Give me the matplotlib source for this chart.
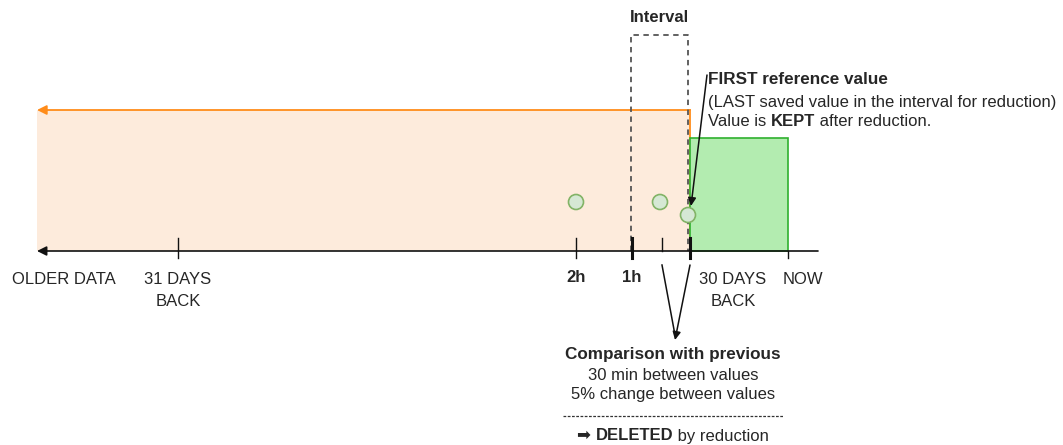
import matplotlib
matplotlib.use("Agg")
import matplotlib.pyplot as plt
from matplotlib.patches import Rectangle, Circle

plt.rcParams['font.family'] = ['Liberation Sans', 'DejaVu Sans']

# diagram positions in pixel units of the canvas
axis_y = 251
axis_left, axis_right = 37, 818
old_left, old_right, old_top = 37, 690, 110
keep_left, keep_right, keep_top = 690, 788, 138
interval_left, interval_right, interval_top = 631, 688, 35

tick_x = [178, 576, 632, 662, 690, 788]
tick_top = [238, 238, 238, 238, 238, 251]
tick_width = [1, 1, 2.2, 1, 2.2, 1]
tick_labels = ["31 DAYS\nBACK", "2h", "1h", "", "30 DAYS\nBACK", "NOW"]
tick_label_x = [178, 576, 632, 662, 733, 803]

point_x = [576, 660, 688]
point_y = [202, 202, 215]

TXT = "#262626"
FS = 12

fig = plt.figure(figsize=(10.63, 4.45), dpi=100)
ax = fig.add_axes([0, 0, 1, 1])
ax.set_xlim(0, 1063)
ax.set_ylim(445, 0)
ax.axis("off")

# older data area (orange)
ax.add_patch(Rectangle((old_left, old_top), old_right - old_left, axis_y - old_top,
                       facecolor="#fdebdc", edgecolor="none", zorder=1))
ax.plot([old_right, old_right], [old_top, axis_y], color="#ff8c1a", lw=1.3, zorder=2)
ax.annotate("", xy=(old_left, old_top), xytext=(old_right, old_top),
            arrowprops=dict(arrowstyle="-|>", color="#ff8c1a", lw=1.3,
                            mutation_scale=14, shrinkA=0, shrinkB=0), zorder=3)

# kept area (green)
ax.add_patch(Rectangle((keep_left, keep_top), keep_right - keep_left, axis_y - keep_top,
                       facecolor="#b3ecb0", edgecolor="#2fb02f", lw=1.2, zorder=2))

# interval dashed box
ax.plot([interval_left, interval_left, interval_right, interval_right],
        [axis_y, interval_top, interval_top, axis_y],
        color="#555555", lw=1.3, ls=(0, (3, 2.5)), zorder=4)
ax.text((interval_left + interval_right) / 2, 17, "Interval", ha="center", va="center",
        fontsize=12, fontweight="bold", color=TXT)

# main time axis
ax.annotate("", xy=(axis_left, axis_y), xytext=(axis_right, axis_y),
            arrowprops=dict(arrowstyle="-|>", color="#111111", lw=1.2,
                            mutation_scale=14, shrinkA=0, shrinkB=0), zorder=5)
for x, top, w in zip(tick_x, tick_top, tick_width):
    bottom = 258 if x != 662 else axis_y
    ax.plot([x, x], [top, bottom], color="#111111", lw=w, zorder=5)

ax.text(64, 280, "OLDER DATA", ha="center", va="center", fontsize=FS, color=TXT)
for lab, lx in zip(tick_labels, tick_label_x):
    if not lab:
        continue
    bold = lab in ("2h", "1h")
    ax.text(lx, 278 if bold else 280, lab.split("\n")[0], ha="center", va="center",
            fontsize=FS, color=TXT, fontweight="bold" if bold else "normal")
    if "\n" in lab:
        ax.text(lx, 301, lab.split("\n")[1], ha="center", va="center",
                fontsize=FS, color=TXT)

# sample values
for px, py in zip(point_x, point_y):
    ax.add_patch(Circle((px, py), 7.5, facecolor="#d5e8d4", edgecolor="#82b366",
                        lw=1.2, zorder=6))

# annotation arrow to reference value
ax.annotate("", xy=(691, 206), xytext=(707, 75),
            arrowprops=dict(arrowstyle="-|>", color="#111111", lw=1.1,
                            mutation_scale=12, shrinkA=0, shrinkB=0), zorder=7)

fig.canvas.draw()
renderer = fig.canvas.get_renderer()


def rich(x, y, parts, ha="left", size=FS):
    # place text pieces one after another, bold where asked
    widths = []
    for s, b in parts:
        t = ax.text(0, 0, s, fontsize=size, fontweight="bold" if b else "normal")
        widths.append(t.get_window_extent(renderer).width)
        t.remove()
    total = sum(widths)
    cx = x - total / 2 if ha == "center" else x
    for (s, b), w in zip(parts, widths):
        ax.text(cx, y, s, fontsize=size, fontweight="bold" if b else "normal",
                color=TXT, ha="left", va="center")
        cx += w


rich(708, 80, [("FIRST reference value", True)], size=12.3)
rich(708, 102, [("(LAST saved value in the interval for reduction)", False)])
rich(708, 122, [("Value is ", False), ("KEPT", True), (" after reduction.", False)])

# comparison arrows
ax.plot([662, 675], [265, 335], color="#111111", lw=1.1)
ax.annotate("", xy=(675, 340), xytext=(690, 265),
            arrowprops=dict(arrowstyle="-|>", color="#111111", lw=1.1,
                            mutation_scale=12, shrinkA=0, shrinkB=0))

rich(673, 354, [("Comparison with previous", True)], ha="center", size=12.3)
rich(673, 375, [("30 min between values", False)], ha="center")
rich(673, 395, [("5% change between values", False)], ha="center")
ax.plot([563, 783], [416, 416], color="#333333", lw=0.9, ls=(0, (2.2, 1.2)))
rich(673, 436, [("\u27a1 ", False), ("DELETED", True), (" by reduction", False)],
     ha="center")

fig.savefig("out.png", dpi=100)
